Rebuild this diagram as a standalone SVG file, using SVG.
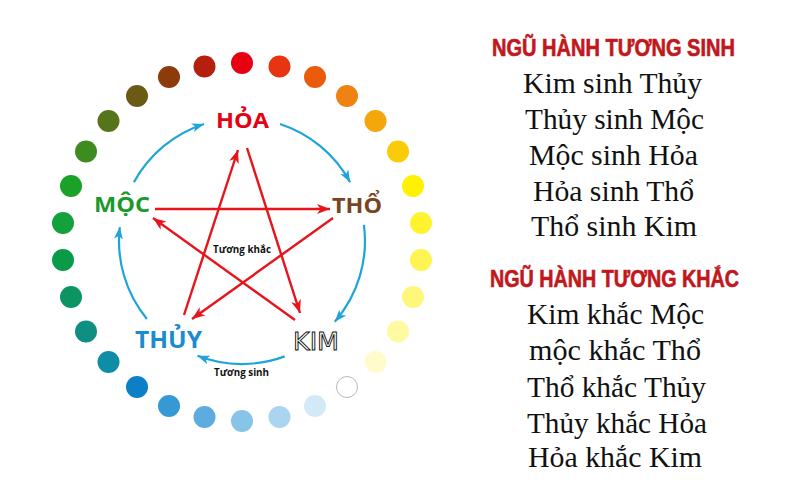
<svg xmlns="http://www.w3.org/2000/svg" width="800" height="498" viewBox="0 0 800 498">
<style>
.el{font-family:"Open Sans","Noto Sans","DejaVu Sans",sans-serif;font-weight:bold}
.sm{font-family:"Open Sans","Noto Sans","DejaVu Sans",sans-serif;font-weight:bold;font-size:11px;fill:#111}
.ttl{font-family:"Liberation Sans Narrow","Liberation Sans",Arial,sans-serif;font-weight:bold;font-size:23px;fill:#c1171d;stroke:#c1171d;stroke-width:0.6}
.ln{font-family:"Liberation Serif","Times New Roman",serif;font-size:29px;fill:#111}
.sinh{fill:none;stroke:#1ea3dd;stroke-width:2.2}
.khac{fill:none;stroke:#e8141c;stroke-width:2.4}
</style>
<defs>
<marker id="ab" markerUnits="userSpaceOnUse" markerWidth="13" markerHeight="10" refX="12" refY="4.5" orient="auto">
<path d="M0,0 L12,4.5 L0,9 L3,4.5 Z" fill="#1ea3dd"/>
</marker>
<marker id="ar" markerUnits="userSpaceOnUse" markerWidth="14" markerHeight="11" refX="13" refY="5" orient="auto">
<path d="M0,0 L13,5 L0,10 L3.5,5 Z" fill="#e8141c"/>
</marker>
</defs>
<rect width="800" height="498" fill="#ffffff"/>
<g id="dots">
<circle cx="242" cy="63" r="11" fill="#e60012"/>
<circle cx="279.5" cy="66.5" r="11" fill="#e83410"/>
<circle cx="315" cy="77" r="11" fill="#ec5a0c"/>
<circle cx="347" cy="96" r="11" fill="#f08212"/>
<circle cx="375.5" cy="121" r="11" fill="#f5a60a"/>
<circle cx="398" cy="151.5" r="11" fill="#f9cb08"/>
<circle cx="413" cy="186" r="11" fill="#fff200"/>
<circle cx="421" cy="223" r="11" fill="#fff330"/>
<circle cx="421" cy="260" r="11" fill="#fff552"/>
<circle cx="413" cy="297" r="11" fill="#fff77c"/>
<circle cx="398" cy="331.5" r="11" fill="#fff9a2"/>
<circle cx="375.5" cy="362" r="11" fill="#fffbca"/>
<circle cx="347" cy="387" r="10.5" fill="#ffffff" stroke="#b9b9b9" stroke-width="1"/>
<circle cx="315" cy="406" r="11" fill="#d3e9f7"/>
<circle cx="279.5" cy="417" r="11" fill="#a9d5f0"/>
<circle cx="242" cy="421" r="11" fill="#86c4e9"/>
<circle cx="204.5" cy="417" r="11" fill="#5eabdf"/>
<circle cx="169" cy="406" r="11" fill="#3499d4"/>
<circle cx="137" cy="387" r="11" fill="#0b80c6"/>
<circle cx="108.5" cy="362" r="11" fill="#0e8ea6"/>
<circle cx="86" cy="331.5" r="11" fill="#0f8f82"/>
<circle cx="71" cy="297" r="11" fill="#0c9563"/>
<circle cx="63" cy="260" r="11" fill="#099b48"/>
<circle cx="63" cy="223" r="11" fill="#12a13a"/>
<circle cx="71" cy="186" r="11" fill="#1aa228"/>
<circle cx="86" cy="151.5" r="11" fill="#3d8c20"/>
<circle cx="108.5" cy="121" r="11" fill="#56751b"/>
<circle cx="137" cy="96" r="11" fill="#6c5a14"/>
<circle cx="169" cy="77" r="11" fill="#8e3b0b"/>
<circle cx="204.5" cy="66.5" r="11" fill="#b5200e"/>
</g>
<g id="connectors">
<path class="sinh" d="M133.9,182.3 A123,123 0 0 1 204,124" marker-end="url(#ab)"/>
<path class="sinh" d="M280,124 A123,123 0 0 1 350.1,182.3" marker-end="url(#ab)"/>
<path class="sinh" d="M363.9,224.9 A123,123 0 0 1 334.8,321.7" marker-end="url(#ab)"/>
<path class="sinh" d="M284.7,356.4 A123,123 0 0 1 197.5,355.7" marker-end="url(#ab)"/>
<path class="sinh" d="M146.9,319 A123,123 0 0 1 119.8,227.1" marker-end="url(#ab)"/>
<path class="khac" d="M155,209 L330,209" marker-end="url(#ar)"/>
<path class="khac" d="M333,218 L192,319" marker-end="url(#ar)"/>
<path class="khac" d="M184,315 L238,150" marker-end="url(#ar)"/>
<path class="khac" d="M247,148 L300,313" marker-end="url(#ar)"/>
<path class="khac" d="M295,320 L153,218" marker-end="url(#ar)"/>
</g>
<g id="hoa"><text class="el" x="216" y="128" font-size="22" fill="#e60012" textLength="53" lengthAdjust="spacingAndGlyphs">HỎA</text></g>
<g id="tho"><text class="el" x="332" y="213" font-size="21" fill="#7a4420" textLength="50" lengthAdjust="spacingAndGlyphs">THỔ</text></g>
<g id="kim"><text x="293" y="350" font-family="'DejaVu Sans',sans-serif" font-size="24" fill="#ffffff" stroke="#111" stroke-width="0.9" textLength="46" lengthAdjust="spacingAndGlyphs">KIM</text></g>
<g id="thuy"><text class="el" x="135" y="348" font-size="24" fill="#1a8ccf" textLength="67" lengthAdjust="spacingAndGlyphs">THỦY</text></g>
<g id="moc"><text class="el" x="94" y="212" font-size="21" fill="#1a9a2a" textLength="56" lengthAdjust="spacingAndGlyphs">MỘC</text></g>
<g id="labels">
<text class="sm" x="213" y="253" textLength="58" lengthAdjust="spacingAndGlyphs">Tương khắc</text>
<text class="sm" x="214" y="376" textLength="55" lengthAdjust="spacingAndGlyphs">Tương sinh</text>
</g>
<g id="sinh-list">
<text class="ttl" x="492" y="56" textLength="243" lengthAdjust="spacingAndGlyphs">NGŨ HÀNH TƯƠNG SINH</text>
<text class="ln" x="523" y="93" textLength="179" lengthAdjust="spacingAndGlyphs">Kim sinh Thủy</text>
<text class="ln" x="525" y="129" textLength="179" lengthAdjust="spacingAndGlyphs">Thủy sinh Mộc</text>
<text class="ln" x="529" y="165" textLength="169" lengthAdjust="spacingAndGlyphs">Mộc sinh Hỏa</text>
<text class="ln" x="533" y="201" textLength="161" lengthAdjust="spacingAndGlyphs">Hỏa sinh Thổ</text>
<text class="ln" x="531" y="236" textLength="166" lengthAdjust="spacingAndGlyphs">Thổ sinh Kim</text>
</g>
<g id="khac-list">
<text class="ttl" x="490" y="287" textLength="249" lengthAdjust="spacingAndGlyphs">NGŨ HÀNH TƯƠNG KHẮC</text>
<text class="ln" x="527" y="324" textLength="177" lengthAdjust="spacingAndGlyphs">Kim khắc Mộc</text>
<text class="ln" x="529" y="360" textLength="172" lengthAdjust="spacingAndGlyphs">mộc khắc Thổ</text>
<text class="ln" x="527" y="397" textLength="179" lengthAdjust="spacingAndGlyphs">Thổ khắc Thủy</text>
<text class="ln" x="527" y="433" textLength="180" lengthAdjust="spacingAndGlyphs">Thủy khắc Hỏa</text>
<text class="ln" x="528" y="467" textLength="174" lengthAdjust="spacingAndGlyphs">Hỏa khắc Kim</text>
</g>
</svg>
